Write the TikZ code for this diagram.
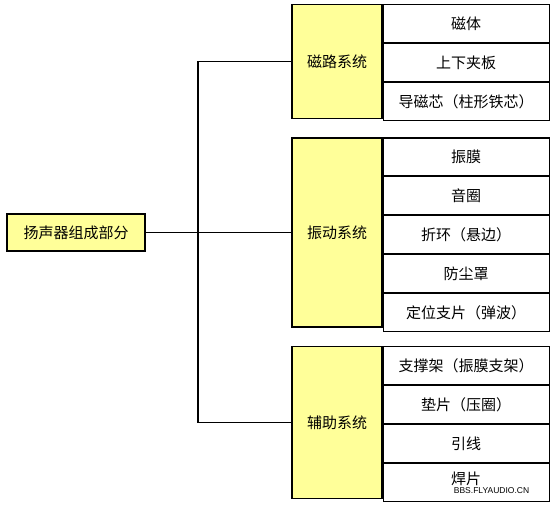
\documentclass[tikz,border=0pt]{standalone}
\usepackage{fontspec}
\newfontfamily\cjk{Noto Sans CJK SC}
\newfontfamily\wmfont{Liberation Sans}
\usepackage{tikz}
\usetikzlibrary{positioning}
\definecolor{boxyellow}{RGB}{255,255,153}

\begin{document}
\begin{tikzpicture}[x=1pt,y=-1pt,line width=1.1pt,node distance=0pt,
                    font=\cjk\fontsize{15}{17}\selectfont]
  \tikzstyle{root}=[draw,fill=boxyellow,minimum width=138pt,minimum height=37pt,inner sep=0pt]
  \tikzstyle{group}=[draw,fill=boxyellow,minimum width=90pt,inner sep=0pt]
  \tikzstyle{part}=[draw,fill=white,minimum width=166pt,minimum height=37.8pt,inner sep=0pt]

  \useasboundingbox (0,0) rectangle (553,506);

  \node[root] (R) at (76,232.5) {扬声器组成部分};

  % three sub systems
  \node[group,minimum height=113.4pt] (M) at (337,61.5) {磁路系统};
  \node[group,minimum height=189pt] (V) at (337,232.5) {振动系统};
  \node[group,minimum height=151.2pt] (A) at (337,422.5) {辅助系统};

  % magnetic parts
  \node[part,anchor=north west] (M1) at (M.north east) {磁体};
  \node[part] (M2) [below=of M1] {上下夹板};
  \node[part] (M3) [below=of M2] {导磁芯（柱形铁芯）};

  % vibrating parts
  \node[part,anchor=north west] (V1) at (V.north east) {振膜};
  \node[part] (V2) [below=of V1] {音圈};
  \node[part] (V3) [below=of V2] {折环（悬边）};
  \node[part] (V4) [below=of V3] {防尘罩};
  \node[part] (V5) [below=of V4] {定位支片（弹波）};

  % auxiliary parts
  \node[part,anchor=north west] (A1) at (A.north east) {支撑架（振膜支架）};
  \node[part] (A2) [below=of A1] {垫片（压圈）};
  \node[part] (A3) [below=of A2] {引线};
  \node[part] (A4) [below=of A3] {\raisebox{9pt}{焊片}};

  \coordinate (fork) at (198,232.5);
  \draw (R.east) -- (V.west);
  \draw (M.west) -| (fork) |- (A.west);

  \node[font=\wmfont\fontsize{8.5}{9}\selectfont,inner sep=0pt] (W) at (491.5,490.5) {BBS.FLYAUDIO.CN};
\end{tikzpicture}
\end{document}
